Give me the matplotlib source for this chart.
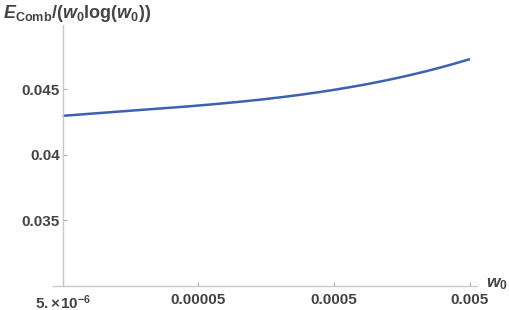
import matplotlib
matplotlib.use("Agg")
import matplotlib.pyplot as plt
from matplotlib.ticker import FixedLocator, FixedFormatter, NullLocator
import numpy as np

# data
w0 = [5e-6, 1e-5, 1.57e-5, 3e-5, 4.7e-5, 1e-4, 1.47e-4, 3e-4, 4.67e-4, 1e-3, 1.53e-3, 3e-3, 5e-3]
ecomb_ratio = [0.04300, 0.04320, 0.04333, 0.04355, 0.04375, 0.04405, 0.04422, 0.04465, 0.04497,
               0.04550, 0.04584, 0.04660, 0.04736]
xticks = [5e-6, 5e-5, 5e-4, 5e-3]
xticklabels = [r'$5.\!\times\!10^{-6}$', '0.00005', '0.0005', '0.005']
yticks = [0.035, 0.04, 0.045]
yticklabels = ['0.035', '0.04', '0.045']

plt.rcParams['mathtext.fontset'] = 'custom'
plt.rcParams['mathtext.rm'] = 'Liberation Sans:bold'
plt.rcParams['mathtext.it'] = 'Liberation Sans:bold:italic'
plt.rcParams['mathtext.bf'] = 'Liberation Sans:bold'
plt.rcParams['font.family'] = ['Liberation Sans', 'DejaVu Sans']

fig = plt.figure(figsize=(5.1, 3.1), dpi=100)
ax = fig.add_axes([53/510, 24/310, (477-53)/510, (286-25)/310])

# smooth curve through read points (log x)
lx = np.log10(w0)
lxs = np.linspace(lx[0], lx[-1], 300)
coef = np.polyfit(lx, ecomb_ratio, 3)
ys = np.polyval(coef, lxs)
ax.plot(10**lxs, ys, color='#3c62ad', lw=1.8, solid_capstyle='butt')

ax.set_xscale('log')
ax.set_xlim(10**(-5.3726), 10**(-2.2494))
ax.set_ylim(0.0300, 0.0499)

for s in ['top', 'right']:
    ax.spines[s].set_visible(False)
ax.spines['left'].set_position(('data', 5e-6))
for s in ['left', 'bottom']:
    ax.spines[s].set_color('#c8c8c8')
    ax.spines[s].set_linewidth(1.0)

ax.xaxis.set_major_locator(FixedLocator(xticks))
ax.xaxis.set_major_formatter(FixedFormatter(xticklabels))
ax.xaxis.set_minor_locator(NullLocator())
ax.set_yticks(yticks)
ax.set_yticklabels(yticklabels)
ax.tick_params(axis='both', direction='in', length=3, width=0.8, color='#b0b0b0',
               labelcolor='#444444', labelsize=11)
ax.tick_params(axis='y', pad=2)
ax.tick_params(axis='x', pad=5)
for lab in ax.get_xticklabels() + ax.get_yticklabels():
    lab.set_fontweight('bold')

fig.text(3/510, 1 - 14/310, r'$E_{\mathrm{Comb}}\mathrm{/}(w_0\mathrm{log}(w_0))$', fontsize=13,
         color='#444444', va='center', ha='left')
fig.text(486/510, 1 - 284/310, r'$w_0$', fontsize=12.5, color='#444444', va='center', ha='left')

fig.savefig('out.png', dpi=100)
